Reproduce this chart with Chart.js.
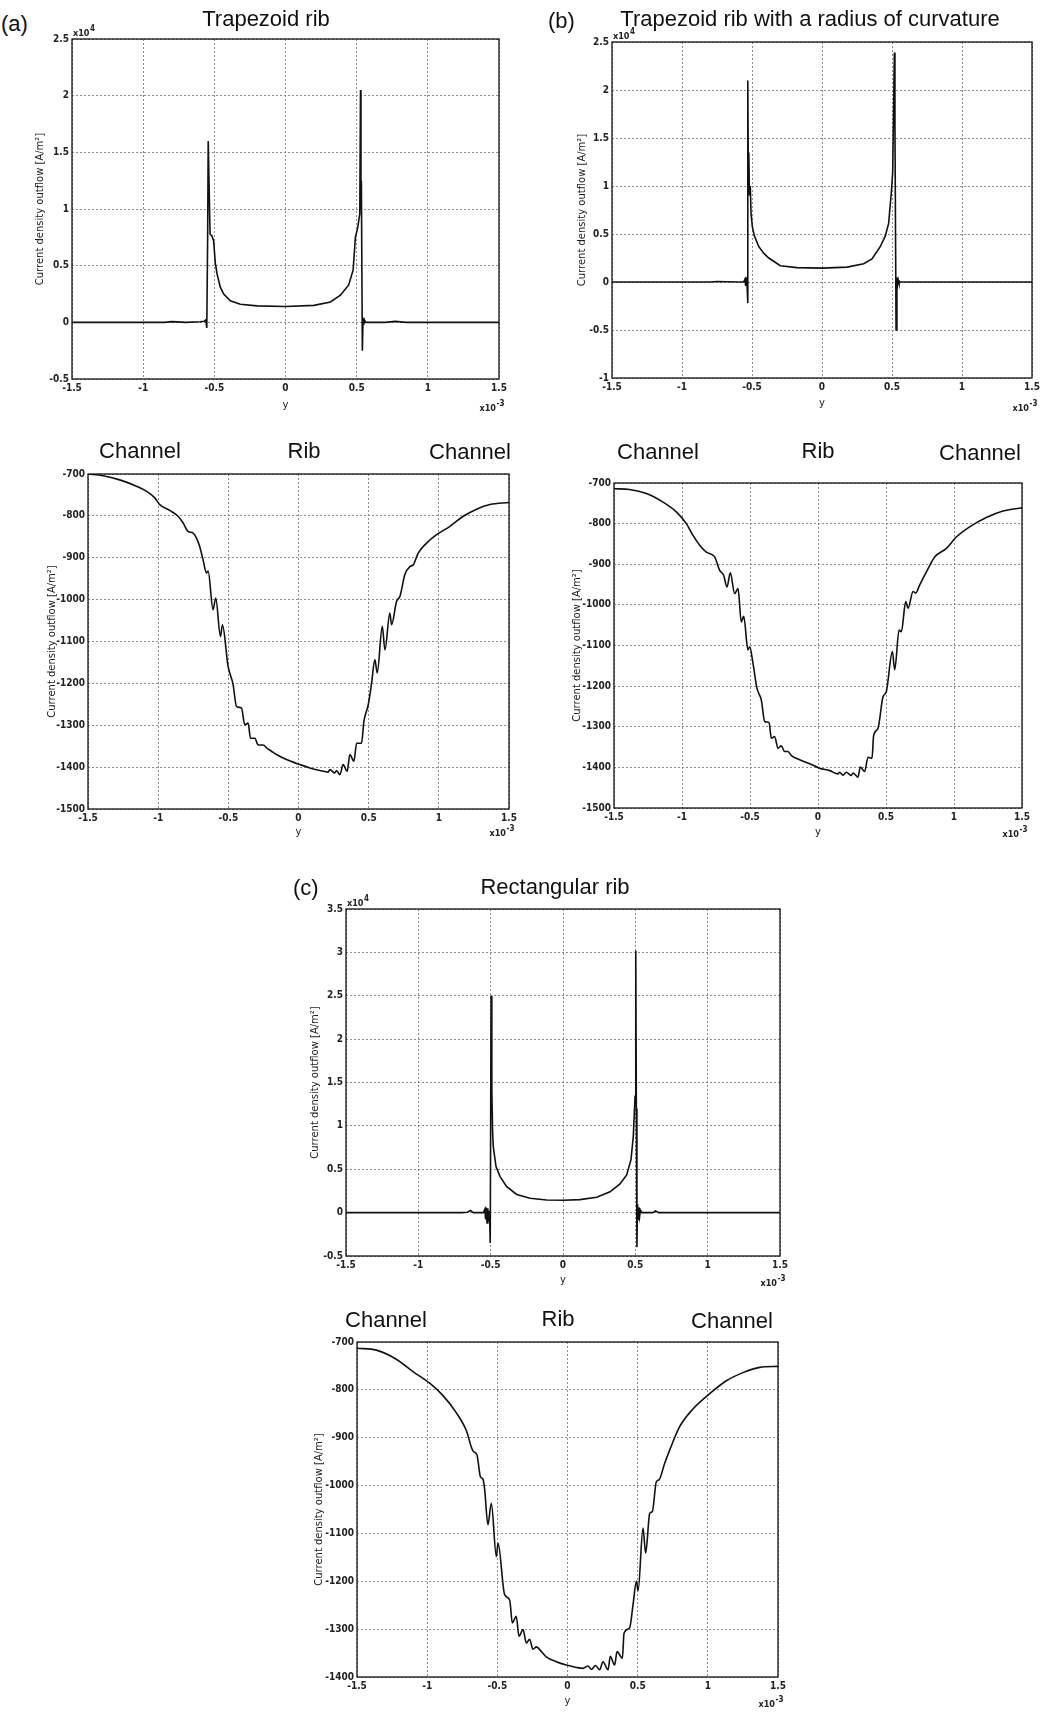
<!DOCTYPE html>
<html>
<head>
<meta charset="utf-8">
<script src="https://cdn.jsdelivr.net/npm/chart.js@4.4.1/dist/chart.umd.min.js"></script>
<style>
html, body { margin: 0; padding: 0; background: #fff; }
body { position: relative; width: 1041px; height: 1714px; overflow: hidden; font-family: 'Liberation Sans', Arial, sans-serif; color: #111; }
canvas { position: absolute; }
.lbl { position: absolute; transform: translate(-50%, -50%); font-size: 22px; white-space: nowrap; }
.tag { position: absolute; transform: translateY(-50%); font-size: 22px; }
</style>
</head>
<body>
<canvas id="trapSpike"></canvas>
<canvas id="curvSpike"></canvas>
<canvas id="trapOut"></canvas>
<canvas id="curvOut"></canvas>
<canvas id="rectSpike"></canvas>
<canvas id="rectOut"></canvas>

<div class="tag" style="left:1px;top:24px">(a)</div>
<div class="lbl" style="left:266px;top:19px">Trapezoid rib</div>
<div class="tag" style="left:548px;top:21px">(b)</div>
<div class="lbl" style="left:810px;top:19px">Trapezoid rib with a radius of curvature</div>

<div class="lbl" style="left:140px;top:451px">Channel</div>
<div class="lbl" style="left:304px;top:451px">Rib</div>
<div class="lbl" style="left:470px;top:452px">Channel</div>
<div class="lbl" style="left:658px;top:452px">Channel</div>
<div class="lbl" style="left:818px;top:451px">Rib</div>
<div class="lbl" style="left:980px;top:453px">Channel</div>

<div class="tag" style="left:293px;top:888px">(c)</div>
<div class="lbl" style="left:555px;top:887px">Rectangular rib</div>

<div class="lbl" style="left:386px;top:1320px">Channel</div>
<div class="lbl" style="left:558px;top:1319px">Rib</div>
<div class="lbl" style="left:732px;top:1321px">Channel</div>

<script>
// y positions in x10^-3, current density in x10^4 (top plots) or A/m2 (bottom plots)
const trapSpikeX = [-1.5, -1.0, -0.85, -0.8, -0.76, -0.7, -0.6, -0.57, -0.56, -0.553, -0.547, -0.543, -0.53, -0.516, -0.505, -0.493, -0.481, -0.458, -0.434, -0.388, -0.317, -0.2, 0, 0.2, 0.316, 0.386, 0.444, 0.475, 0.491, 0.508, 0.522, 0.527, 0.53, 0.533, 0.54, 0.545, 0.55, 0.555, 0.565, 0.7, 0.77, 0.85, 1.5];
const trapSpikeY = [0, 0, 0, 0.006, 0.004, 0, 0.005, 0.01, 0.02, -0.05, 0.75, 1.6, 0.78, 0.76, 0.72, 0.52, 0.43, 0.31, 0.25, 0.19, 0.16, 0.145, 0.14, 0.15, 0.18, 0.24, 0.33, 0.46, 0.75, 0.84, 0.96, 2.05, 1.0, 1.25, -0.25, 0.04, -0.02, 0.02, 0, 0, 0.008, 0, 0];

const curvSpikeX = [-1.5, -0.8, -0.75, -0.6, -0.56, -0.55, -0.545, -0.54, -0.535, -0.531, -0.529, -0.526, -0.523, -0.518, -0.512, -0.507, -0.498, -0.483, -0.452, -0.417, -0.38, -0.298, -0.179, 0, 0.179, 0.298, 0.357, 0.417, 0.452, 0.476, 0.495, 0.505, 0.517, 0.521, 0.529, 0.535, 0.54, 0.545, 0.55, 0.56, 0.8, 1.5];
const curvSpikeY = [0, 0, 0.005, 0, 0, 0.03, -0.04, 0.05, -0.05, -0.22, 2.1, 1.0, 1.35, 0.9, 1.0, 0.72, 0.58, 0.48, 0.37, 0.3, 0.25, 0.17, 0.15, 0.145, 0.155, 0.19, 0.24, 0.37, 0.48, 0.61, 0.93, 1.14, 2.39, 1.64, -0.5, 0.05, -0.03, 0.02, -0.01, 0, 0, 0];

const rectSpikeX = [-1.5, -0.7, -0.66, -0.64, -0.62, -0.55, -0.54, -0.535, -0.53, -0.525, -0.52, -0.515, -0.508, -0.503, -0.497, -0.492, -0.486, -0.482, -0.463, -0.435, -0.389, -0.32, -0.228, -0.113, 0, 0.117, 0.233, 0.325, 0.394, 0.44, 0.47, 0.486, 0.498, 0.503, 0.507, 0.511, 0.515, 0.52, 0.525, 0.53, 0.535, 0.545, 0.62, 0.64, 0.66, 1.5];
const rectSpikeY = [0, 0, 0.005, 0.025, 0, 0, 0.04, -0.08, 0.06, -0.12, 0.05, -0.1, 0.02, -0.35, 2.5, 1.4, 0.9, 0.76, 0.53, 0.415, 0.3, 0.21, 0.165, 0.146, 0.142, 0.15, 0.177, 0.24, 0.33, 0.435, 0.61, 0.88, 1.34, 3.02, 1.2, -0.4, 0.1, -0.08, 0.06, -0.04, 0.03, 0, 0, 0.02, 0, 0];

const trapOutX = [-1.5, -1.393, -1.274, -1.155, -1.084, -1.024, -0.989, -0.918, -0.858, -0.822, -0.787, -0.751, -0.727, -0.704, -0.68, -0.656, -0.644, -0.609, -0.59, -0.556, -0.542, -0.502, -0.466, -0.442, -0.406, -0.383, -0.359, -0.342, -0.311, -0.288, -0.252, -0.228, -0.193, -0.157, -0.086, 0.01, 0.081, 0.152, 0.212, 0.223, 0.259, 0.271, 0.295, 0.318, 0.347, 0.366, 0.395, 0.414, 0.449, 0.466, 0.497, 0.521, 0.544, 0.561, 0.597, 0.616, 0.651, 0.663, 0.699, 0.723, 0.758, 0.794, 0.818, 0.853, 0.913, 0.984, 1.079, 1.174, 1.269, 1.364, 1.5];
const trapOutY = [-700, -704, -714, -729, -741, -757, -773, -787, -801, -817, -837, -841, -853, -873, -905, -936, -932, -1024, -996, -1088, -1060, -1159, -1203, -1255, -1259, -1299, -1295, -1331, -1331, -1347, -1347, -1354, -1362, -1370, -1382, -1394, -1402, -1408, -1412, -1406, -1414, -1408, -1418, -1394, -1410, -1370, -1386, -1343, -1343, -1291, -1251, -1199, -1143, -1175, -1064, -1120, -1032, -1060, -1004, -992, -940, -921, -917, -889, -865, -845, -825, -801, -784, -773, -768];

const curvOutX = [-1.5, -1.385, -1.262, -1.14, -1.042, -0.968, -0.919, -0.87, -0.821, -0.76, -0.723, -0.694, -0.669, -0.645, -0.613, -0.588, -0.564, -0.546, -0.515, -0.502, -0.478, -0.449, -0.417, -0.392, -0.36, -0.343, -0.319, -0.294, -0.27, -0.245, -0.221, -0.196, -0.135, -0.061, 0.012, 0.086, 0.147, 0.159, 0.184, 0.208, 0.245, 0.257, 0.294, 0.311, 0.343, 0.368, 0.397, 0.409, 0.441, 0.478, 0.502, 0.547, 0.564, 0.596, 0.613, 0.645, 0.662, 0.699, 0.718, 0.748, 0.797, 0.858, 0.944, 1.017, 1.115, 1.238, 1.36, 1.5];
const curvOutY = [-714, -716, -726, -747, -771, -800, -829, -853, -870, -882, -915, -927, -956, -921, -972, -960, -1042, -1028, -1111, -1103, -1144, -1205, -1234, -1287, -1290, -1328, -1324, -1353, -1347, -1361, -1361, -1371, -1381, -1391, -1402, -1408, -1416, -1412, -1419, -1412, -1420, -1414, -1424, -1399, -1410, -1375, -1378, -1322, -1304, -1226, -1214, -1115, -1160, -1062, -1066, -992, -1008, -967, -971, -951, -919, -882, -861, -833, -808, -785, -769, -761];

const rectOutX = [-1.5, -1.362, -1.22, -1.101, -0.982, -0.887, -0.792, -0.721, -0.673, -0.645, -0.621, -0.602, -0.59, -0.567, -0.543, -0.507, -0.495, -0.448, -0.412, -0.393, -0.365, -0.346, -0.317, -0.293, -0.27, -0.246, -0.222, -0.186, -0.151, -0.08, -0.008, 0.063, 0.11, 0.146, 0.17, 0.2, 0.229, 0.253, 0.289, 0.305, 0.336, 0.353, 0.391, 0.403, 0.443, 0.467, 0.491, 0.503, 0.538, 0.557, 0.586, 0.605, 0.633, 0.652, 0.692, 0.728, 0.799, 0.894, 1.013, 1.132, 1.25, 1.37, 1.5];
const rectOutY = [-713, -717, -736, -762, -786, -812, -848, -885, -928, -936, -981, -987, -1009, -1082, -1037, -1148, -1120, -1228, -1239, -1287, -1273, -1315, -1301, -1329, -1321, -1342, -1337, -1347, -1358, -1368, -1375, -1380, -1382, -1377, -1384, -1376, -1385, -1368, -1385, -1357, -1375, -1347, -1361, -1308, -1297, -1249, -1200, -1220, -1089, -1141, -1058, -1054, -992, -988, -954, -926, -877, -840, -808, -781, -764, -753, -751];

// where each plot area sits on the page: [left, top, right, bottom]
const panels = [
    { id: 'trapSpike', xs: trapSpikeX, ys: trapSpikeY, yMin: -0.5, yMax: 2.5, step: 0.5, area: [72, 39, 499, 379], yW: 38, xH: 32, yExp: '4', xExpDy: 32, smooth: false },
    { id: 'curvSpike', xs: curvSpikeX, ys: curvSpikeY, yMin: -1, yMax: 2.5, step: 0.5, area: [612, 42, 1032, 378], yW: 36, xH: 31, yExp: '4', xExpDy: 33, smooth: false },
    { id: 'trapOut', xs: trapOutX, ys: trapOutY, yMin: -1500, yMax: -700, step: 100, area: [88, 474, 509, 809], yW: 42, xH: 29, yExp: null, xExpDy: 27, smooth: true },
    { id: 'curvOut', xs: curvOutX, ys: curvOutY, yMin: -1500, yMax: -700, step: 100, area: [614, 483, 1022, 808], yW: 43, xH: 30, yExp: null, xExpDy: 29, smooth: true },
    { id: 'rectSpike', xs: rectSpikeX, ys: rectSpikeY, yMin: -0.5, yMax: 3.5, step: 0.5, area: [346, 909, 780, 1256], yW: 37, xH: 30, yExp: '4', xExpDy: 30, smooth: false },
    { id: 'rectOut', xs: rectOutX, ys: rectOutY, yMin: -1400, yMax: -700, step: 100, area: [357, 1342, 778, 1677], yW: 44, xH: 30, yExp: null, xExpDy: 30, smooth: true }
];

const PAD_TOP = 17; // room for the x10^4 tag above the frame
const PAD_RIGHT = 9;
const PAD_BOTTOM = 8; // room for the x10^-3 tag under the axis
const tickFont = { family: "'DejaVu Sans Condensed', 'DejaVu Sans', sans-serif", size: 10, weight: 'bold' };

// draws the black frame and the x10^n multipliers
const framePlugin = {
    id: 'frame',
    afterDraw(chart, args, opts) {
        const ctx = chart.ctx;
        const a = chart.chartArea;
        ctx.save();
        ctx.strokeStyle = '#111';
        ctx.lineWidth = 1.3;
        ctx.setLineDash([]);
        ctx.strokeRect(a.left, a.top, a.right - a.left, a.bottom - a.top);

        ctx.fillStyle = '#222';
        ctx.textBaseline = 'alphabetic';
        const base = "bold 9px 'DejaVu Sans Condensed', 'DejaVu Sans', sans-serif";
        const small = "bold 8px 'DejaVu Sans Condensed', 'DejaVu Sans', sans-serif";
        function multiplier(exp, x, y, alignRight) {
            ctx.font = base;
            const w1 = ctx.measureText('x10').width;
            ctx.font = small;
            const w2 = ctx.measureText(exp).width;
            const x0 = alignRight ? x - w1 - w2 : x;
            ctx.font = base;
            ctx.textAlign = 'left';
            ctx.fillText('x10', x0, y);
            ctx.font = small;
            ctx.fillText(exp, x0 + w1 + 0.5, y - 5);
        }
        if (opts.yExp) multiplier(opts.yExp, a.left + 1, a.top - 3, false);
        multiplier('-3', a.right + 5, a.bottom + opts.xExpDy, true);
        ctx.restore();
    }
};

function fmt(v) {
    return String(Math.round(v * 1000) / 1000);
}

panels.forEach(function (p) {
    const [L, T, R, B] = p.area;
    const canvas = document.getElementById(p.id);
    const width = (R - L) + p.yW + PAD_RIGHT;
    const height = (B - T) + p.xH + PAD_TOP + PAD_BOTTOM;
    canvas.width = width;
    canvas.height = height;
    canvas.style.left = (L - p.yW) + 'px';
    canvas.style.top = (T - PAD_TOP) + 'px';
    canvas.style.width = width + 'px';
    canvas.style.height = height + 'px';

    const n = Math.min(p.xs.length, p.ys.length);
    const points = [];
    for (let i = 0; i < n; i++) {
        points.push({ x: p.xs[i], y: p.ys[i] });
    }

    new Chart(canvas.getContext('2d'), {
        type: 'line',
        data: {
            datasets: [{
                data: points,
                borderColor: '#111',
                borderWidth: 1.6,
                pointRadius: 0,
                tension: 0,
                cubicInterpolationMode: p.smooth ? 'monotone' : 'default'
            }]
        },
        plugins: [framePlugin],
        options: {
            responsive: false,
            animation: false,
            devicePixelRatio: 1,
            layout: { padding: { top: PAD_TOP, right: PAD_RIGHT, left: 0, bottom: PAD_BOTTOM } },
            plugins: {
                legend: { display: false },
                tooltip: { enabled: false },
                frame: { yExp: p.yExp, xExpDy: p.xExpDy }
            },
            scales: {
                x: {
                    type: 'linear',
                    min: -1.5,
                    max: 1.5,
                    afterFit: function (s) { s.height = p.xH; s.paddingLeft = 0; s.paddingRight = 0; },
                    ticks: { stepSize: 0.5, callback: fmt, font: tickFont, color: '#222', padding: 3, maxRotation: 0 },
                    grid: { color: '#8c8c8c', lineWidth: 1, drawTicks: false, tickLength: 0 },
                    border: { display: false, dash: [2, 2] },
                    title: { display: true, text: 'y', font: { family: "'DejaVu Sans', sans-serif", size: 10 }, color: '#222', padding: 0 }
                },
                y: {
                    type: 'linear',
                    min: p.yMin,
                    max: p.yMax,
                    afterFit: function (s) { s.width = p.yW; s.paddingTop = 0; s.paddingBottom = 0; },
                    ticks: { stepSize: p.step, callback: fmt, font: tickFont, color: '#222', padding: 3 },
                    grid: { color: '#8c8c8c', lineWidth: 1, drawTicks: false, tickLength: 0 },
                    border: { display: false, dash: [2, 2] },
                    title: { display: true, text: 'Current density outflow [A/m²]', font: { family: "'DejaVu Sans', sans-serif", size: 10 }, color: '#222', padding: 0 }
                }
            }
        }
    });
});
</script>
</body>
</html>
